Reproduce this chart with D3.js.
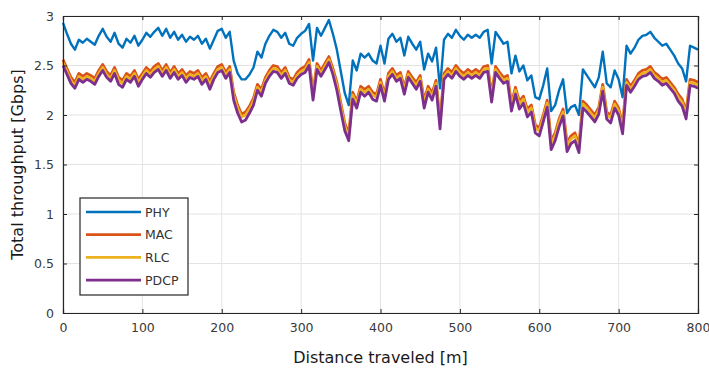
<!DOCTYPE html>
<html>
<head>
<meta charset="utf-8">
<script src="https://cdn.jsdelivr.net/npm/d3@7"></script>
<style>
  html, body { margin: 0; padding: 0; background: #fff; }
  svg { display: block; }
</style>
</head>
<body>
<div id="chart"></div>
<script>
// distance samples every 5 m, 0..800
const distance = d3.range(0, 801, 5);

const phy = [
  2.93, 2.82, 2.72, 2.66, 2.76, 2.73, 2.77, 2.74, 2.71, 2.80,
  2.87, 2.79, 2.74, 2.83, 2.72, 2.68, 2.77, 2.73, 2.80, 2.70,
  2.76, 2.83, 2.79, 2.84, 2.88, 2.80, 2.87, 2.78, 2.84, 2.76,
  2.81, 2.74, 2.79, 2.76, 2.80, 2.72, 2.77, 2.67, 2.76, 2.85,
  2.87, 2.78, 2.84, 2.55, 2.42, 2.36, 2.36, 2.41, 2.48, 2.64,
  2.58, 2.72, 2.80, 2.86, 2.84, 2.78, 2.83, 2.72, 2.70, 2.78,
  2.82, 2.85, 2.92, 2.55, 2.88, 2.80, 2.88, 2.96, 2.82, 2.66,
  2.44, 2.22, 2.10, 2.55, 2.45, 2.62, 2.58, 2.62, 2.55, 2.52,
  2.70, 2.52, 2.77, 2.82, 2.74, 2.78, 2.60, 2.79, 2.72, 2.66,
  2.74, 2.46, 2.62, 2.54, 2.68, 2.27, 2.76, 2.82, 2.78, 2.86,
  2.80, 2.76, 2.81, 2.78, 2.81, 2.78, 2.84, 2.86, 2.52, 2.84,
  2.78, 2.72, 2.74, 2.42, 2.60, 2.44, 2.50, 2.35, 2.40, 2.18,
  2.16, 2.30, 2.47, 2.04, 2.10, 2.25, 2.36, 2.02, 2.08, 2.10,
  2.00, 2.46, 2.40, 2.34, 2.28, 2.38, 2.64, 2.32, 2.28, 2.45,
  2.36, 2.18, 2.70, 2.62, 2.68, 2.76, 2.80, 2.81, 2.84, 2.78,
  2.74, 2.70, 2.72, 2.66, 2.60, 2.52, 2.47, 2.34, 2.70, 2.68,
  2.66
];

const mac = [
  2.56, 2.47, 2.38, 2.33, 2.42, 2.39, 2.42, 2.40, 2.37, 2.45,
  2.51, 2.44, 2.40, 2.48, 2.38, 2.35, 2.42, 2.39, 2.45, 2.36,
  2.42, 2.48, 2.44, 2.49, 2.52, 2.45, 2.51, 2.43, 2.49, 2.42,
  2.46, 2.40, 2.44, 2.42, 2.45, 2.38, 2.42, 2.34, 2.42, 2.49,
  2.51, 2.43, 2.49, 2.23, 2.10, 2.01, 2.03, 2.09, 2.17, 2.31,
  2.26, 2.38, 2.45, 2.50, 2.49, 2.43, 2.48, 2.38, 2.36, 2.43,
  2.47, 2.49, 2.56, 2.23, 2.52, 2.45, 2.52, 2.59, 2.47, 2.33,
  2.12, 1.92, 1.81, 2.23, 2.14, 2.29, 2.26, 2.29, 2.23, 2.21,
  2.36, 2.21, 2.42, 2.47, 2.40, 2.43, 2.28, 2.44, 2.38, 2.33,
  2.40, 2.15, 2.29, 2.22, 2.35, 1.94, 2.42, 2.47, 2.43, 2.50,
  2.45, 2.42, 2.46, 2.43, 2.46, 2.43, 2.49, 2.50, 2.21, 2.49,
  2.43, 2.38, 2.40, 2.12, 2.28, 2.14, 2.19, 2.06, 2.10, 1.90,
  1.87, 2.00, 2.15, 1.74, 1.82, 1.96, 2.06, 1.72, 1.79, 1.82,
  1.70, 2.14, 2.10, 2.05, 2.00, 2.08, 2.31, 2.03, 2.00, 2.14,
  2.07, 1.90, 2.36, 2.29, 2.35, 2.42, 2.45, 2.46, 2.49, 2.43,
  2.40, 2.36, 2.38, 2.33, 2.28, 2.21, 2.16, 2.04, 2.36, 2.35,
  2.33
];

const rlc = [
  2.53, 2.44, 2.35, 2.30, 2.39, 2.36, 2.39, 2.37, 2.34, 2.42,
  2.48, 2.41, 2.37, 2.45, 2.35, 2.32, 2.39, 2.36, 2.42, 2.33,
  2.39, 2.45, 2.41, 2.46, 2.49, 2.42, 2.48, 2.40, 2.46, 2.39,
  2.43, 2.37, 2.41, 2.39, 2.42, 2.35, 2.39, 2.31, 2.39, 2.46,
  2.48, 2.40, 2.46, 2.20, 2.07, 1.98, 2.00, 2.06, 2.14, 2.28,
  2.23, 2.35, 2.42, 2.47, 2.46, 2.40, 2.45, 2.35, 2.33, 2.40,
  2.44, 2.46, 2.53, 2.20, 2.49, 2.42, 2.49, 2.56, 2.44, 2.30,
  2.09, 1.89, 1.78, 2.20, 2.11, 2.26, 2.23, 2.26, 2.20, 2.18,
  2.33, 2.18, 2.39, 2.44, 2.37, 2.40, 2.25, 2.41, 2.35, 2.30,
  2.37, 2.12, 2.26, 2.19, 2.32, 1.91, 2.39, 2.44, 2.40, 2.47,
  2.42, 2.39, 2.43, 2.40, 2.43, 2.40, 2.46, 2.47, 2.18, 2.46,
  2.40, 2.35, 2.37, 2.09, 2.25, 2.11, 2.16, 2.03, 2.07, 1.87,
  1.84, 1.97, 2.12, 1.71, 1.79, 1.93, 2.03, 1.69, 1.76, 1.79,
  1.67, 2.11, 2.07, 2.02, 1.97, 2.05, 2.28, 2.00, 1.97, 2.11,
  2.04, 1.87, 2.33, 2.26, 2.32, 2.39, 2.42, 2.43, 2.46, 2.40,
  2.37, 2.33, 2.35, 2.30, 2.25, 2.18, 2.13, 2.01, 2.33, 2.32,
  2.30
];

const pdcp = [
  2.50, 2.41, 2.32, 2.27, 2.36, 2.33, 2.36, 2.34, 2.31, 2.39,
  2.45, 2.38, 2.34, 2.42, 2.31, 2.28, 2.36, 2.33, 2.39, 2.29,
  2.36, 2.42, 2.38, 2.43, 2.46, 2.39, 2.45, 2.37, 2.43, 2.36,
  2.40, 2.33, 2.38, 2.36, 2.39, 2.31, 2.36, 2.26, 2.36, 2.43,
  2.45, 2.37, 2.43, 2.15, 2.02, 1.93, 1.95, 2.02, 2.10, 2.25,
  2.19, 2.32, 2.39, 2.44, 2.43, 2.37, 2.42, 2.32, 2.30, 2.37,
  2.41, 2.43, 2.50, 2.15, 2.46, 2.39, 2.46, 2.53, 2.41, 2.25,
  2.04, 1.84, 1.74, 2.16, 2.07, 2.23, 2.19, 2.23, 2.16, 2.14,
  2.30, 2.14, 2.36, 2.41, 2.34, 2.37, 2.21, 2.38, 2.32, 2.26,
  2.34, 2.07, 2.23, 2.15, 2.29, 1.86, 2.36, 2.41, 2.37, 2.44,
  2.39, 2.36, 2.40, 2.37, 2.40, 2.37, 2.43, 2.44, 2.13, 2.43,
  2.37, 2.32, 2.34, 2.04, 2.21, 2.06, 2.12, 1.98, 2.03, 1.82,
  1.79, 1.93, 2.08, 1.65, 1.74, 1.88, 1.99, 1.63, 1.71, 1.74,
  1.62, 2.07, 2.03, 1.98, 1.93, 2.01, 2.24, 1.96, 1.92, 2.07,
  2.00, 1.81, 2.30, 2.23, 2.29, 2.36, 2.39, 2.40, 2.43, 2.37,
  2.34, 2.30, 2.32, 2.27, 2.22, 2.14, 2.09, 1.96, 2.30, 2.29,
  2.27
];

const seriesNames = ['PHY', 'MAC', 'RLC', 'PDCP'];
const seriesValues = [phy, mac, rlc, pdcp];
const seriesColors = ['#0072BD', '#D95319', '#EDB120', '#7E2F8E'];
const seriesWidths = [2.4, 2.8, 2.8, 2.8];

const xTicks = [0, 100, 200, 300, 400, 500, 600, 700, 800];
const yTicks = [0, 0.5, 1, 1.5, 2, 2.5, 3];

const W = 709, H = 369;
const margin = { left: 63, right: 11, top: 16, bottom: 56 };
const iw = W - margin.left - margin.right;
const ih = H - margin.top - margin.bottom;

const svg = d3.select('#chart').append('svg')
  .attr('width', W)
  .attr('height', H)
  .attr('font-family', "'DejaVu Sans', sans-serif");

const x = d3.scaleLinear().domain([0, 800]).range([0, iw]);
const y = d3.scaleLinear().domain([0, 3]).range([ih, 0]);

const g = svg.append('g').attr('transform', `translate(${margin.left},${margin.top})`);

// grid
g.append('g').attr('class', 'grid')
  .selectAll('line').data(xTicks).join('line')
  .attr('x1', d => x(d)).attr('x2', d => x(d))
  .attr('y1', 0).attr('y2', ih)
  .attr('stroke', '#e3e3e3').attr('stroke-width', 1);
g.append('g').attr('class', 'grid')
  .selectAll('line').data(yTicks).join('line')
  .attr('x1', 0).attr('x2', iw)
  .attr('y1', d => y(d)).attr('y2', d => y(d))
  .attr('stroke', '#e3e3e3').attr('stroke-width', 1);

// lines
const line = d3.line()
  .x((d, i) => x(distance[i]))
  .y(d => y(d));

g.append('g').attr('class', 'series')
  .selectAll('path').data(seriesValues).join('path')
  .attr('d', d => line(d))
  .attr('fill', 'none')
  .attr('stroke', (d, i) => seriesColors[i])
  .attr('stroke-width', (d, i) => seriesWidths[i])
  .attr('stroke-linejoin', 'round');

// axes (box, ticks inward)
const axisColor = '#262626';
const xAxis = d3.axisBottom(x).tickValues(xTicks).tickSize(-4).tickPadding(10).tickFormat(d3.format('d'));
const yAxis = d3.axisLeft(y).tickValues(yTicks).tickSize(-4).tickPadding(9).tickFormat(d => d);

const gx = g.append('g').attr('transform', `translate(0,${ih})`).call(xAxis);
const gy = g.append('g').call(yAxis);
const gxTop = g.append('g').call(d3.axisTop(x).tickValues(xTicks).tickSize(-4).tickFormat(''));
const gyRight = g.append('g').attr('transform', `translate(${iw},0)`)
  .call(d3.axisRight(y).tickValues(yTicks).tickSize(-4).tickFormat(''));

[gx, gy, gxTop, gyRight].forEach(a => {
  a.select('.domain').attr('stroke', axisColor).attr('stroke-width', 1.2);
  a.selectAll('.tick line').attr('stroke', axisColor);
  a.selectAll('.tick text')
    .attr('fill', '#3a3a3a')
    .attr('font-size', '12.5px')
    .attr('font-family', "'DejaVu Sans', sans-serif");
});

// axis labels
svg.append('text')
  .attr('x', margin.left + iw / 2)
  .attr('y', 363)
  .attr('text-anchor', 'middle')
  .attr('font-size', '16px')
  .attr('fill', '#1a1a1a')
  .text('Distance traveled [m]');

svg.append('text')
  .attr('transform', `translate(23,${margin.top + ih / 2}) rotate(-90)`)
  .attr('text-anchor', 'middle')
  .attr('font-size', '16px')
  .attr('fill', '#1a1a1a')
  .text('Total throughput [Gbps]');

// legend
const legend = svg.append('g').attr('transform', 'translate(80,198)');
legend.append('rect')
  .attr('width', 108).attr('height', 97)
  .attr('fill', '#fff')
  .attr('stroke', axisColor).attr('stroke-width', 1.2);

const items = legend.selectAll('g.item').data(seriesNames).join('g')
  .attr('transform', (d, i) => `translate(0,${14 + i * 22.7})`);
items.append('line')
  .attr('x1', 6).attr('x2', 61)
  .attr('stroke', (d, i) => seriesColors[i])
  .attr('stroke-width', (d, i) => seriesWidths[i]);
items.append('text')
  .attr('x', 65).attr('dy', '0.36em')
  .attr('font-size', '12.5px')
  .attr('fill', '#333')
  .text(d => d);
</script>
</body>
</html>
